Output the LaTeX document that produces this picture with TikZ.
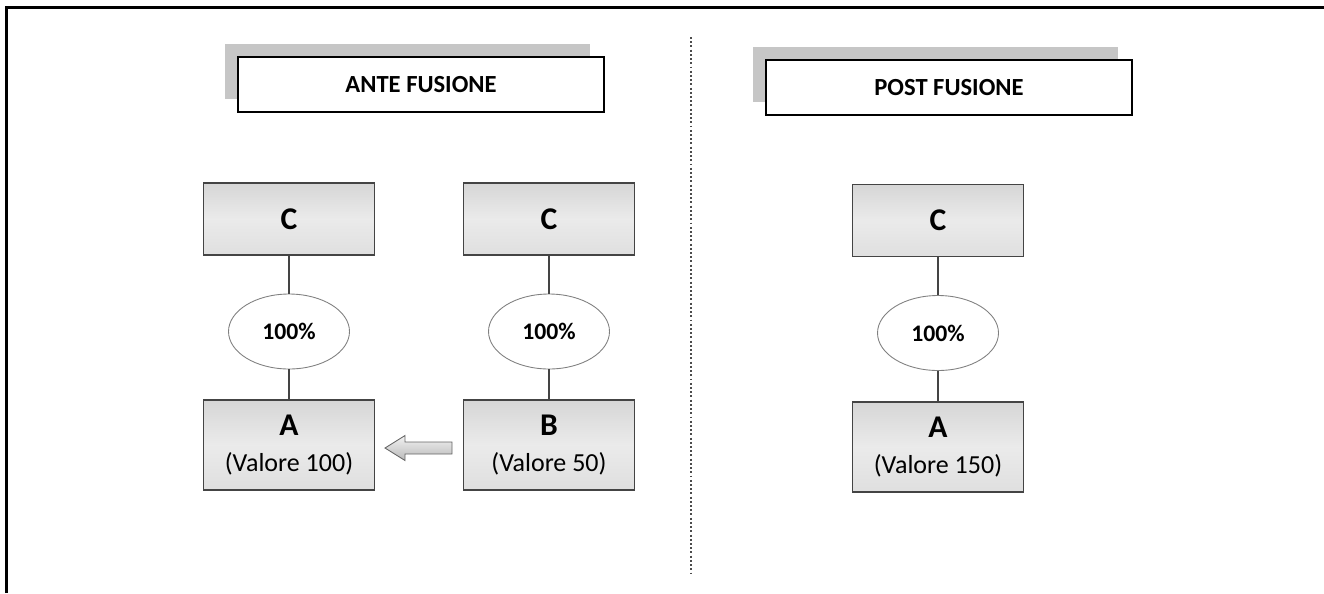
\documentclass[tikz,border=0pt]{standalone}
\usepackage{fontspec}
\setmainfont{Carlito}
\usepackage{tikz}
\usetikzlibrary{graphs}
\usetikzlibrary{shapes.geometric,shadows}

\definecolor{linegray}{HTML}{444444}
\definecolor{boxgray}{HTML}{D6D6D6}

\begin{document}
\begin{tikzpicture}[x=0.02cm, y=-0.02cm,
	box/.style={draw=linegray, line width=0.6pt, top color=boxgray, bottom color=gray!25, middle color=gray!16, minimum width=3.42cm, minimum height=1.44cm, inner sep=0pt},
	cbox/.style={box, font=\fontsize{18}{20}\selectfont\bfseries},
	lowbox/.style={box, minimum height=1.8cm, align=center, font=\fontsize{14.8}{20}\selectfont},
	pct/.style={draw=gray, ellipse, fill=white, line width=0.5pt, minimum width=2.42cm, minimum height=1.5cm, inner sep=0pt, font=\fontsize{13.5}{16}\selectfont\bfseries},
	titlebox/.style={draw=black, line width=0.8pt, fill=white, minimum width=7.32cm, minimum height=1.1cm, font=\fontsize{14}{16}\selectfont\bfseries, general shadow={fill=gray!45, shadow xshift=-0.27cm, shadow yshift=0.26cm}},
	fatarrow/.style={draw=gray!80!black, line width=0.5pt, top color=gray!10, bottom color=gray!55}]
	\useasboundingbox (0,0) rectangle (1324,593);
	%Rammen
	\draw[line width=1.2pt] (6.5,593) -- (6.5,7.5) -- (1324,7.5);
	
	%Nodene går her
	\node[titlebox] (ante) at (421,84.5) {ANTE FUSIONE};
	\node[titlebox] (post) at (949,87.5) {POST FUSIONE};
	
	\node[cbox] (c1) at (289,219) {C};
	\node[pct] (p1) at (289,331.5) {100\%};
	\node[lowbox] (a1) at (289,445) {{\fontsize{18}{20}\selectfont\bfseries A}\\(Valore 100)};
	
	\node[cbox] (c2) at (549,219) {C};
	\node[pct] (p2) at (549,331.5) {100\%};
	\node[lowbox] (b) at (549,445) {{\fontsize{18}{20}\selectfont\bfseries B}\\(Valore 50)};
	
	\node[cbox] (c3) at (938,220.5) {C};
	\node[pct] (p3) at (938,333) {100\%};
	\node[lowbox] (a3) at (938,447) {{\fontsize{18}{20}\selectfont\bfseries A}\\(Valore 150)};
	
	%Pilen fra B til A
	\path[fatarrow] (385,448) -- (405,435.5) -- (405,442) -- (452,442) -- (452,454) -- (405,454) -- (405,460.5) -- cycle;
	
	%Skillelinjen
	\coordinate (top) at (691,37);
	\coordinate (bottom) at (691,575);
	\draw[gray!60!black, line width=1.1pt, dash pattern=on 1.1pt off 1.3pt] (top) -- (bottom);
	
	%Kantene defineres her
	\graph[edges={linegray, line width=0.6pt}] {
		(c1) -- (p1) -- (a1);
		(c2) -- (p2) -- (b);
		(c3) -- (p3) -- (a3);
	};
\end{tikzpicture}
\end{document}
